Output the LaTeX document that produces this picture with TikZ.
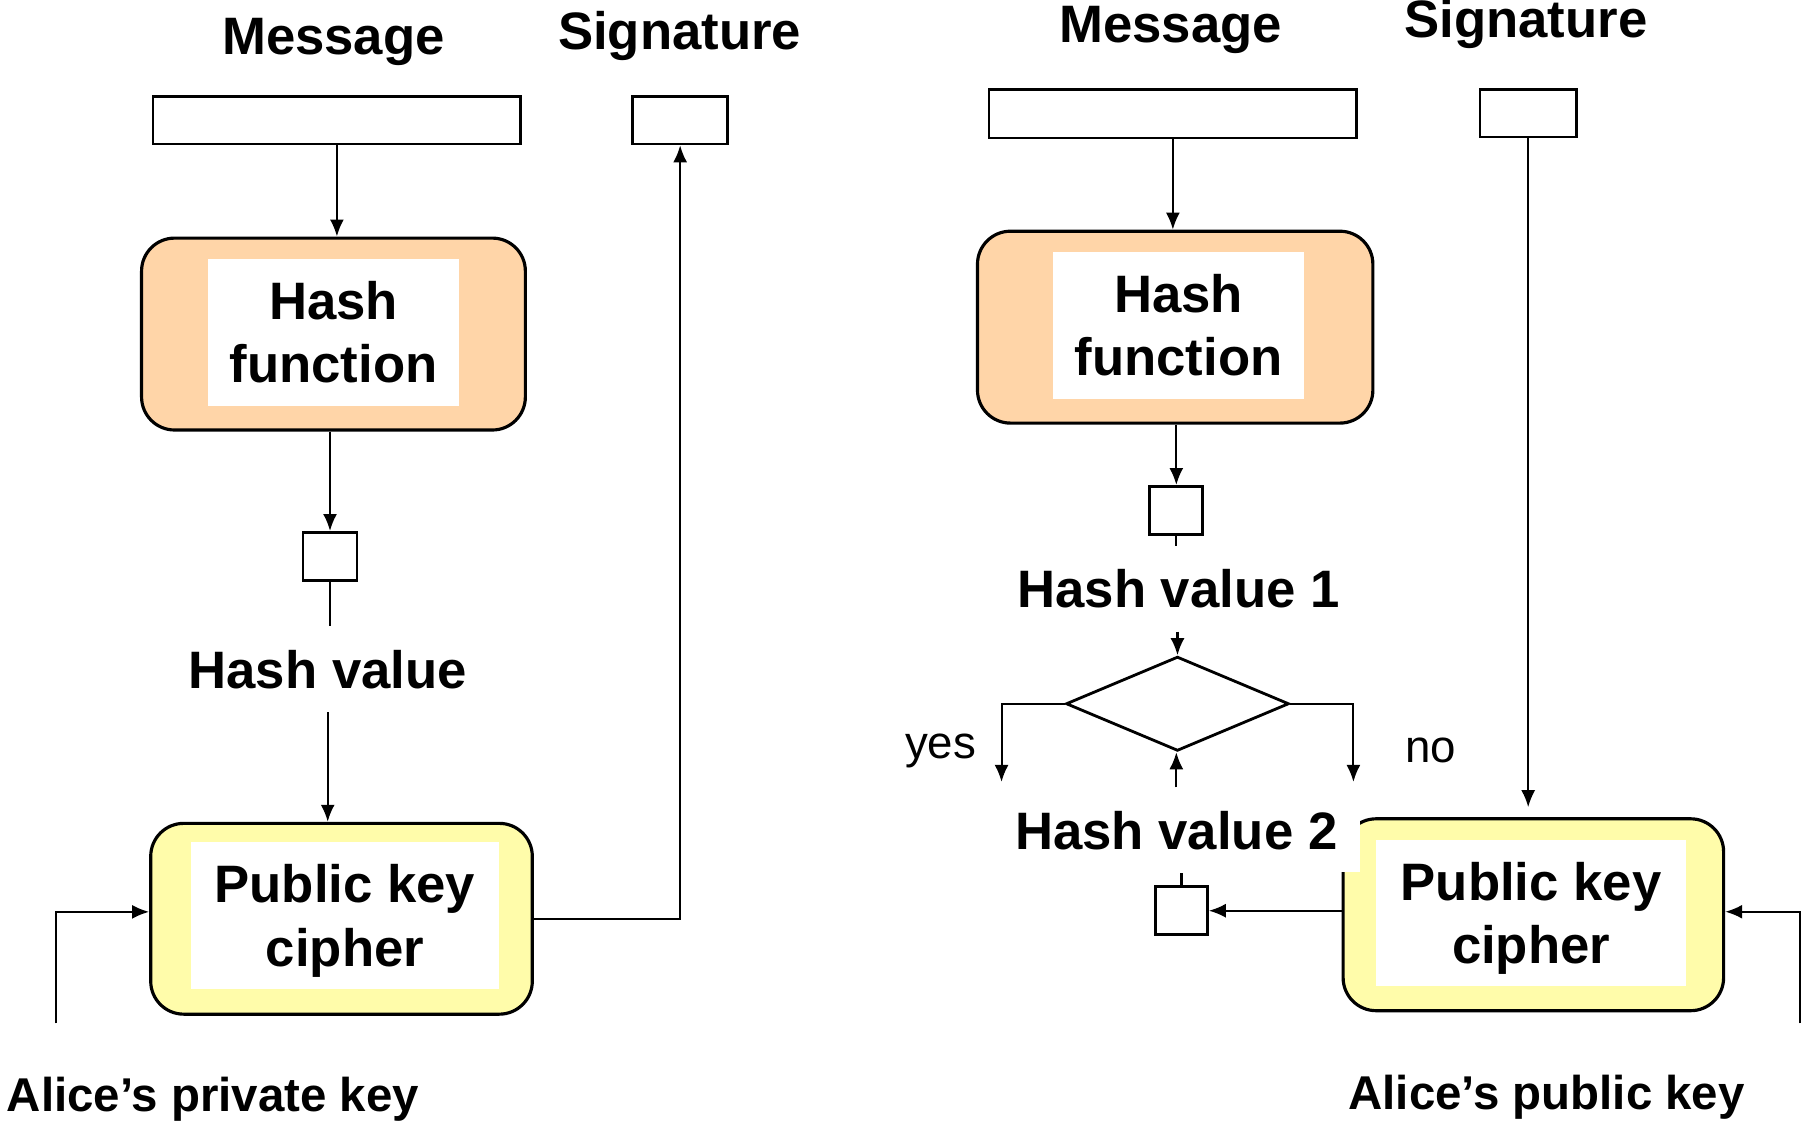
\documentclass[tikz,border=0pt]{standalone}
\usepackage{fontspec}
\setmainfont{Liberation Sans}
\usetikzlibrary{arrows.meta,shapes.geometric}
\definecolor{peach}{HTML}{FFD5A8}
\definecolor{paleyellow}{HTML}{FFFCAA}
\begin{document}
\begin{tikzpicture}[
  x=0.0115cm, y=-0.0115cm,
  >={Latex[length=1.7mm,width=1.4mm]},
  line width=0.6pt,
  slot/.style={draw, line width=0.8pt, inner sep=0pt, minimum height=0.475cm},
  outerbox/.style={draw, line width=0.9pt, rounded corners=0.33cm, minimum height=1.92cm},
  textbox/.style={fill=white, inner sep=0pt, minimum width=#1, minimum height=1.47cm,
    align=center, font=\fontsize{15}{18}\selectfont\bfseries},
  head/.style={anchor=base, font=\fontsize{15}{18}\selectfont\bfseries},
  hv/.style={fill=white, inner sep=2.25mm, font=\fontsize{15}{18}\selectfont\bfseries},
  keylabel/.style={anchor=base, inner xsep=0pt, font=\fontsize{13.5}{16}\selectfont\bfseries},
  answer/.style={font=\fontsize{13}{15}\selectfont},
]
  \useasboundingbox (0,0) rectangle (1568,976);

  \node[head] (msgLt) at (290,47) {Message};
  \node[head] (sigLt) at (591,43) {Signature};
  \node[slot, minimum width=3.68cm] (msgL) at (293,104.5) {};
  \node[slot, minimum width=0.955cm] (sigL) at (591.5,104.5) {};
  \node[outerbox, fill=peach, minimum width=3.84cm] (hashL) at (290,290.5) {};
  \node[textbox=2.507cm] (hashLt) at (290,289) {Hash\\function};
  \node[slot, minimum width=0.54cm, minimum height=0.483cm] (hvL) at (287,484) {};
  \node[hv] (hvLlab) at (285,582) {Hash value};
  \node[outerbox, fill=paleyellow, minimum width=3.818cm, minimum height=1.909cm] (cipL) at (297,799) {};
  \node[textbox=3.082cm, text depth=0pt] (cipLt) at (300,796) {Public key\\cipher};
  \coordinate (privL) at (49,890);
  \node[keylabel, anchor=base west] (privLt) at (5,967) {Alice’s private key};

  \draw[->] (msgL.south) -- (msgL.south |- hashL.north);
  \draw[->] (hvL.north |- hashL.south) -- (hvL.north);
  \draw (hvL.south) -- (hvL.south |- hvLlab.north);
  \draw[->] (hvLlab.south) -- (hvLlab.south |- cipL.north);
  \draw[->] (privL) |- ([yshift=0.069cm]cipL.west);
  \draw[->] (cipL.east) -| (sigL.south);

  \node[head] (msgRt) at (1018,37) {Message};
  \node[head] (sigRt) at (1327,33) {Signature};
  \node[slot, minimum width=3.68cm, minimum height=0.483cm] (msgR) at (1020,99) {};
  \node[slot, minimum width=0.966cm] (sigR) at (1329,98.5) {};
  \node[outerbox, fill=peach, minimum width=3.956cm] (hashR) at (1022,284.5) {};
  \node[textbox=2.507cm] (hashRt) at (1025,283) {Hash\\function};
  \node[slot, minimum width=0.529cm, minimum height=0.483cm] (hv1) at (1023,444) {};
  \node[hv] (hv1lab) at (1025,512) {Hash value 1};
  \node[diamond, draw, line width=0.8pt, inner sep=0pt, minimum width=2.231cm,
    minimum height=0.943cm] (cmp) at (1024,612) {};
  \coordinate (yesend) at (871,680);
  \coordinate (noend) at (1177,680);
  \node[answer] (yes) at (818,653) {yes};
  \node[answer] (no) at (1244,653) {no};
  \node[outerbox, fill=paleyellow, minimum width=3.807cm] (cipR) at (1333.5,795.5) {};
  \node[textbox=3.094cm, text depth=0pt] (cipRt) at (1331.5,794) {Public key\\cipher};
  \node[hv] (hv2lab) at (1023,722) {Hash value 2};
  \node[slot, minimum width=0.518cm, minimum height=0.483cm] (hv2) at (1027.5,792) {};
  \coordinate (pubR) at (1565,890);
  \node[keylabel] (pubRt) at (1345,965) {Alice’s public key};

  \draw[->] (msgR.south) -- (msgR.south |- hashR.north);
  \draw[->] (hv1.north |- hashR.south) -- (hv1.north);
  \draw (hv1.south) -- (hv1.south |- hv1lab.north);
  \draw[->] (cmp.north |- hv1lab.south) -- (cmp.north);
  \draw[->] (cmp.west) -| (yesend);
  \draw[->] (cmp.east) -| (noend);
  \draw[->] (hv2lab.north) -- (hv2lab.north |- cmp.south);
  \draw (hv2.north |- hv2lab.south) -- (hv2.north);
  \draw[->] (cipR.west |- hv2.east) -- (hv2.east);
  \draw[->, shorten >=1mm] (sigR.south) -- (sigR.south |- cipR.north);
  \draw[->] (pubR) |- ([yshift=0.03cm]cipR.east);
\end{tikzpicture}
\end{document}
